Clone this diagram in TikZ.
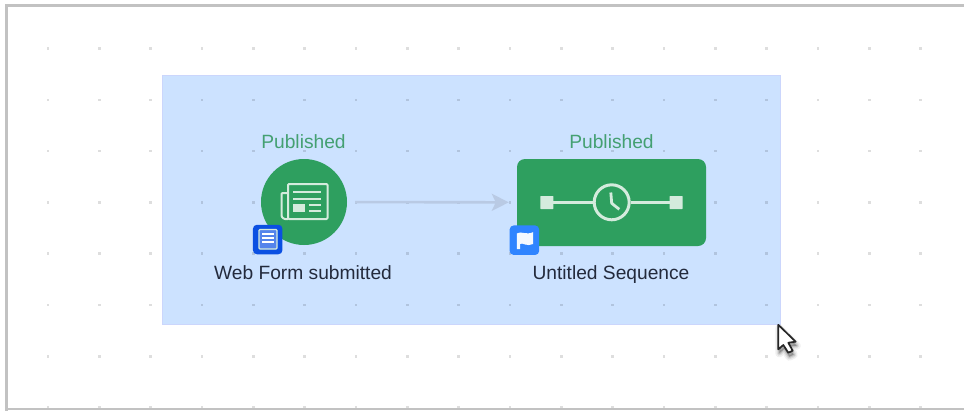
\documentclass[tikz,border=0pt]{standalone}
\usepackage{fontspec}
\setmainfont{Liberation Sans}
\usetikzlibrary{arrows.meta}
\definecolor{greenfill}{HTML}{2E9F5F}
\definecolor{statusgreen}{HTML}{44A072}
\definecolor{regionfill}{HTML}{CCE2FF}
\definecolor{regionedge}{HTML}{CBD6FC}
\definecolor{arrowcol}{HTML}{B9CAE4}
\definecolor{framecol}{HTML}{C2C2C2}
\definecolor{iconcol}{HTML}{D4EBDD}
\definecolor{badgeA}{HTML}{0B50E2}
\definecolor{badgeB}{HTML}{2F84FF}
\definecolor{labelcol}{HTML}{232A3C}
\tikzset{
  griddot/.style={fill=black,fill opacity=0.13,draw=none},
  region/.style={draw=regionedge,fill=regionfill,line width=1pt,minimum width=617.5pt,minimum height=249.5pt,inner sep=0pt},
  status/.style={text=statusgreen,font=\fontsize{19.2pt}{21pt}\selectfont,inner sep=0pt,anchor=base},
  caption/.style={text=labelcol,font=\fontsize{19.2pt}{21pt}\selectfont,inner sep=0pt,anchor=base},
  circlenode/.style={circle,fill=greenfill,draw=none,minimum size=86pt,inner sep=0pt},
  seqnode/.style={rectangle,rounded corners=8pt,fill=greenfill,draw=none,minimum width=189pt,minimum height=87pt,inner sep=0pt},
  badge/.style={rectangle,rounded corners=4pt,minimum size=29.5pt,inner sep=0pt,draw=none},
  icon/.style={draw=iconcol,line width=2pt,line join=round},
  connector/.style={draw=arrowcol,line width=2.6pt,shorten <=8pt,shorten >=8pt,-{Stealth[length=17pt,width=17pt,inset=4pt]}},
}
\begin{document}
\begin{tikzpicture}[x=1pt,y=-1pt]
\useasboundingbox (0,0) rectangle (964,410);
\fill[white] (0,0) rectangle (964,410);
% region
\node[region] (group) at (471.25,199.75) {};
% dot grid
\foreach \i in {0,...,17}{\foreach \j in {0,...,7}{
  \fill[griddot] ({48+51.33*\i-1.3},{48.5+51.3*\j-1.3}) rectangle +(2.6,2.6);
}}
% frame
\draw[framecol,line width=3pt] (6.5,412) -- (6.5,5.5) -- (966,5.5);
\draw[framecol,line width=2pt] (6.5,409.3) -- (966,409.3);
% nodes
\node[circlenode] (form) at (304,202) {};
\node[seqnode] (seq) at (611.5,202.5) {};
\draw[connector] (form) -- (seq);
\node[status] (st1) at (303.5,148) {Published};
\node[status] (st2) at (611.5,148) {Published};
\node[caption] (cap1) at (303,279.5) {Web Form submitted};
\node[caption] (cap2) at (611,279.5) {Untitled Sequence};
% newspaper icon
\draw[icon,rounded corners=1pt] (288,219) -- (288,184) -- (327.5,184) -- (327.5,219) -- cycle;
\draw[icon,rounded corners=1pt] (288,219) -- (284,219) -- (281.5,216.5) -- (281.5,193) -- (288,193);
\draw[icon] (293,192) -- (321,192) (293,199) -- (321,199) (309,205) -- (321,205) (309,211) -- (321,211);
\fill[iconcol] (293,204) rectangle (305,212);
% clock icon
\fill[iconcol,rounded corners=0.5pt] (540.3,196) rectangle (553.3,209);
\fill[iconcol,rounded corners=0.5pt] (669.5,196) rectangle (682.5,209);
\node[circle,draw=iconcol,line width=3pt,minimum size=35pt,inner sep=0pt] (clock) at (611.7,202.3) {};
\draw[iconcol,line width=2.4pt] (553,202.3) -- (clock) (clock) -- (670,202.3);
\draw[iconcol,line width=2.8pt,line join=round] (610.8,192.5) -- (611.7,203.3) -- (619.3,209.3);
% badges
\node[badge,fill=badgeA] (b1) at (267.7,239.5) {};
\draw[iconcol,line width=1.3pt,fill=badgeA!70!white,rounded corners=1pt] (259,229.5) rectangle (277,249);
\draw[white,line width=1.2pt] (262,234) -- (274,234) (262,238) -- (274,238) (262,242) -- (274,242);
\node[badge,fill=badgeB] (b2) at (524.4,240.2) {};
\fill[white!95!badgeB] (516.8,233.5) .. controls (521,230.5) and (526,235.5) .. (533,232.2)
  -- (533,244) .. controls (527,247) and (523,242.5) .. (520,243.8) -- (520,249) -- (516.8,249) -- cycle;
% cursor
\foreach \o/\w in {0.06/8,0.08/5,0.12/2.5}{
  \draw[black,opacity=\o,line width=\w pt,fill=black,line join=round]
    (779.3,328.3) -- (779.3,353.3) -- (784.3,349) -- (789.3,356.7) -- (793.7,354.7) -- (789.3,346.7) -- (796.7,345.7) -- cycle;
}
\draw[black!85,line width=1.7pt,fill=white,line join=round]
  (778.3,324.8) -- (778.3,349.3) -- (783.3,345) -- (788.3,352.7) -- (792.7,350.7) -- (788.3,342.7) -- (795.7,341.7) -- cycle;
\end{tikzpicture}
\end{document}
